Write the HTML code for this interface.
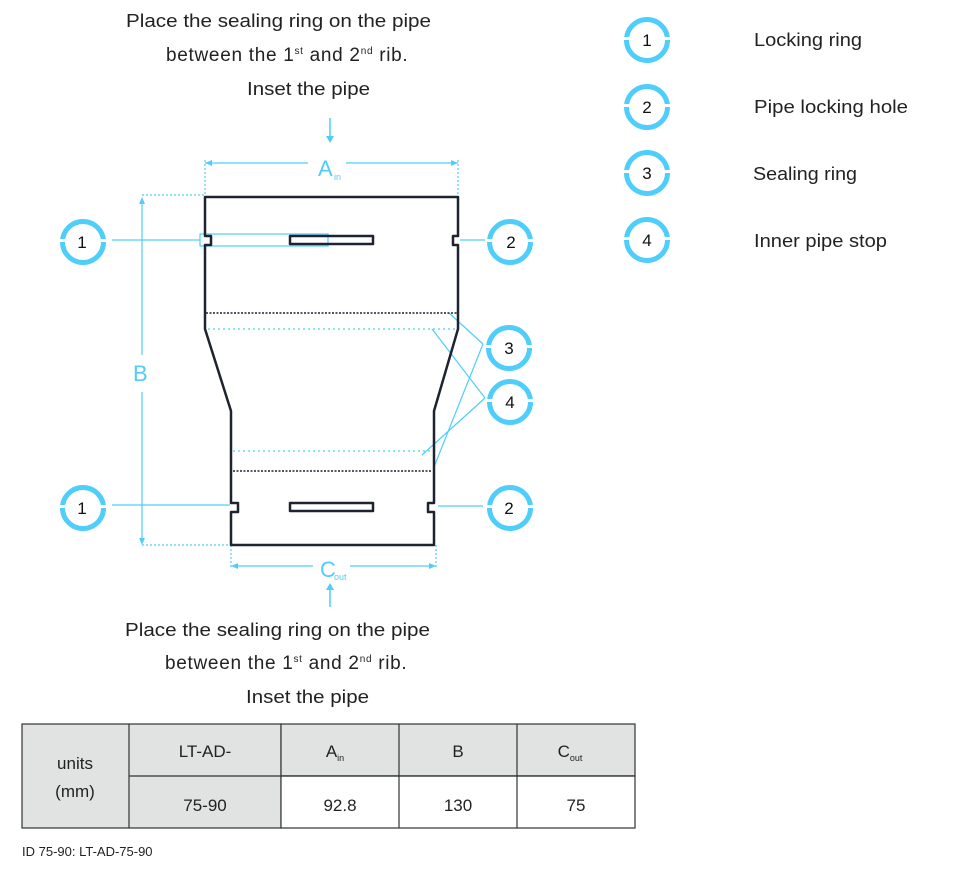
<!DOCTYPE html>
<html><head><meta charset="utf-8"><style>
html,body{margin:0;padding:0;background:#fff;}
svg{display:block;font-family:"Liberation Sans",sans-serif;}
</style></head><body>
<svg width="959" height="870" viewBox="0 0 959 870" xmlns="http://www.w3.org/2000/svg">
<defs>
<g id="c">
<circle cx="0" cy="0" r="20.5" fill="none" stroke="#4fcdfb" stroke-width="5"/>
<rect x="-26" y="-3" width="10" height="3" fill="#fff"/>
<rect x="16" y="-3" width="10" height="3" fill="#fff"/>
</g>
</defs>
<g fill="#222" font-size="18">
<text x="126" y="27" textLength="305" lengthAdjust="spacingAndGlyphs">Place the sealing ring on the pipe</text>
<text x="166" y="61" font-size="19" letter-spacing="0.7">between the 1<tspan font-size="10" dy="-7">st</tspan><tspan dy="7"> and 2</tspan><tspan font-size="10" dy="-7">nd</tspan><tspan dy="7"> rib.</tspan></text>
<text x="247" y="95" textLength="123" lengthAdjust="spacingAndGlyphs">Inset the pipe</text>
<text x="125" y="636" textLength="305" lengthAdjust="spacingAndGlyphs">Place the sealing ring on the pipe</text>
<text x="165" y="669" font-size="19" letter-spacing="0.7">between the 1<tspan font-size="10" dy="-7">st</tspan><tspan dy="7"> and 2</tspan><tspan font-size="10" dy="-7">nd</tspan><tspan dy="7"> rib.</tspan></text>
<text x="246" y="703" textLength="123" lengthAdjust="spacingAndGlyphs">Inset the pipe</text>
<text x="754" y="46" textLength="108" lengthAdjust="spacingAndGlyphs">Locking ring</text>
<text x="754" y="113" textLength="154" lengthAdjust="spacingAndGlyphs">Pipe locking hole</text>
<text x="753" y="180" textLength="104" lengthAdjust="spacingAndGlyphs">Sealing ring</text>
<text x="754" y="247" textLength="133" lengthAdjust="spacingAndGlyphs">Inner pipe stop</text>
</g>
<g font-size="17" text-anchor="middle" fill="#111">
<use href="#c" x="647" y="40"/><text x="647" y="46">1</text>
<use href="#c" x="647" y="107"/><text x="647" y="113">2</text>
<use href="#c" x="647" y="173"/><text x="647" y="179">3</text>
<use href="#c" x="647" y="240"/><text x="647" y="246">4</text>
<use href="#c" x="83" y="242"/><text x="82" y="248">1</text>
<use href="#c" x="510" y="242"/><text x="511" y="248">2</text>
<use href="#c" x="83" y="508"/><text x="82" y="514">1</text>
<use href="#c" x="510" y="508"/><text x="509" y="514">2</text>
<use href="#c" x="509" y="348"/><text x="509" y="354">3</text>
<use href="#c" x="510" y="402"/><text x="510" y="408">4</text>
</g>
<g stroke="#4fcdfb" stroke-width="1.5" fill="#4fcdfb">
<line x1="330" y1="118" x2="330" y2="140"/><path d="M326,136 L330,143 L334,136Z" stroke="none"/>
<line x1="330" y1="586" x2="330" y2="607"/><path d="M326,590 L330,583 L334,590Z" stroke="none"/>
</g>
<g stroke="#4fcdfb" stroke-width="1.2" fill="none">
<line x1="205" y1="163" x2="308" y2="163"/><line x1="346" y1="163" x2="458" y2="163"/>
<line x1="205" y1="160" x2="205" y2="197" stroke-dasharray="2,2"/>
<line x1="458" y1="160" x2="458" y2="197" stroke-dasharray="2,2"/>
<line x1="142" y1="199" x2="142" y2="355"/><line x1="142" y1="392" x2="142" y2="543"/>
<line x1="142" y1="195" x2="205" y2="195" stroke-dasharray="2,2"/>
<line x1="142" y1="545" x2="231" y2="545" stroke-dasharray="2,2"/>
<line x1="231" y1="545" x2="231" y2="568" stroke-dasharray="2,2"/>
<line x1="436" y1="545" x2="436" y2="568" stroke-dasharray="2,2"/>
<line x1="233" y1="566" x2="313" y2="566"/><line x1="350" y1="566" x2="433" y2="566"/>
<line x1="112" y1="240" x2="200" y2="240"/>
<line x1="460" y1="240" x2="485" y2="240"/>
<line x1="112" y1="505" x2="230" y2="505"/>
<line x1="438" y1="506" x2="483" y2="506"/>
<rect x="200" y="234" width="128" height="12"/>
<line x1="483" y1="344" x2="449" y2="313"/><line x1="483" y1="344" x2="434" y2="467"/>
<line x1="485" y1="398" x2="432" y2="329"/><line x1="485" y1="398" x2="422" y2="455"/>
<line x1="208" y1="329" x2="455" y2="329" stroke-dasharray="2,3"/>
<line x1="233" y1="451" x2="432" y2="451" stroke-dasharray="2,3"/>
</g>
<g fill="#4fcdfb">
<path d="M205,163 l7,-3 v6z"/><path d="M458,163 l-7,-3 v6z"/>
<path d="M142,197 l-3,7 h6z"/><path d="M142,545 l-3,-7 h6z"/>
<path d="M231,566 l7,-3 v6z"/><path d="M436,566 l-7,-3 v6z"/>
<text x="318" y="176" font-size="22">A</text><text x="334" y="180" font-size="9">in</text>
<text x="133" y="381" font-size="22">B</text>
<text x="320" y="577" font-size="22">C</text><text x="334" y="580" font-size="9">out</text>
</g>
<g stroke="#1f2230" stroke-width="2.5" fill="none" stroke-linejoin="round">
<path d="M205,197 H458 V236 H453 V245 H458 V329 L434,411 V503 H428 V512 H434 V545 H231 V512 H238 V503 H231 V411 L205,329 V245 H211 V236 H205 Z"/>
<rect x="290" y="236" width="83" height="8"/>
<rect x="290" y="503" width="83" height="8"/>
</g>
<g stroke="#1f2230" stroke-width="1.5" stroke-dasharray="2,1.5">
<line x1="206" y1="313" x2="457" y2="313"/>
<line x1="233" y1="471" x2="432" y2="471"/>
</g>
<g stroke="#333" stroke-width="1.2">
<rect x="22" y="724" width="259" height="104" fill="#e1e2e2"/>
<rect x="281" y="724" width="354" height="52" fill="#e1e2e2"/>
<rect x="281" y="776" width="354" height="52" fill="#fff"/>
<line x1="129" y1="724" x2="129" y2="828"/>
<line x1="129" y1="776" x2="635" y2="776"/>
<line x1="399" y1="724" x2="399" y2="828"/>
<line x1="517" y1="724" x2="517" y2="828"/>
</g>
<g font-size="17" fill="#222" text-anchor="middle">
<text x="75" y="769">units</text><text x="75" y="797">(mm)</text>
<text x="205" y="757">LT-AD-</text><text x="205" y="811">75-90</text>
<text x="335" y="757">A<tspan font-size="9" dy="4">in</tspan></text><text x="340" y="811">92.8</text>
<text x="458" y="757">B</text><text x="458" y="811">130</text>
<text x="570" y="757">C<tspan font-size="9" dy="4">out</tspan></text><text x="576" y="811">75</text>
</g>
<text x="22" y="856" font-size="13" fill="#222">ID 75-90: LT-AD-75-90</text>
</svg>
</body></html>
